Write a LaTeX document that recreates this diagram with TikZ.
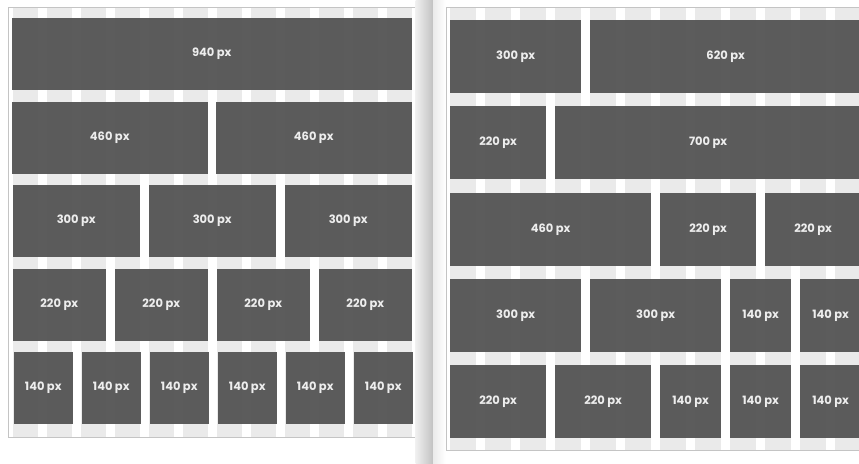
\documentclass[tikz,border=0pt]{standalone}
\usepackage{fontspec}
\setsansfont{Poppins}
\usetikzlibrary{positioning}
\usepackage{xcolor}
\definecolor{gdDark}{HTML}{4F4F4F}
\definecolor{gdStripe}{HTML}{EAEAEA}
\definecolor{gdFrame}{HTML}{C4C4C4}
\definecolor{gdLabel}{HTML}{EDEDED}
\tikzset{
    blk/.style={
        fill=gdDark,fill opacity=0.92,text opacity=1,anchor=north west,
        inner sep=0pt,outer sep=0pt,minimum width=#1,text=gdLabel,
        font=\sffamily\bfseries\fontsize{11.5}{13}\selectfont
    },
    lrow/.style={minimum height=72pt},
    rrow/.style={minimum height=73pt},
    page/.style={draw=gdFrame,line width=0.8pt,fill=white}
}

\begin{document}
\begin{tikzpicture}[x=1pt,y=-1pt]

\clip (0,0) rectangle (859,463);
\fill[white] (0,0) rectangle (859,463);

% the two pages
\draw[page] (8,7) rectangle (415,437);
\draw[page] (446,7) rectangle (890,450);

% column stripes
\foreach \k in {0,...,11}
    \fill[gdStripe] ({12.5+\k*34},7.5) rectangle ++(25.5,429);
\foreach \k in {0,...,12}
    \fill[gdStripe] ({450+\k*35},7.5) rectangle ++(26.25,442);

% fold of the book
\shade[left color=black!6,right color=black!24] (415.5,0) rectangle (433,463);
\shade[left color=black!8,right color=white] (433,0) rectangle (445.5,463);

% left page
\node[blk=399.5pt,lrow] (a1) at (12,18) {940 px};

\node[blk=195.5pt,lrow] (b1) at (12,101.5) {460 px};
\node[blk=195.5pt,lrow,right=8.5pt of b1] (b2) {460 px};

\node[blk=127.5pt,lrow] (c1) at (12.5,185) {300 px};
\node[blk=127.5pt,lrow,right=8.5pt of c1] (c2) {300 px};
\node[blk=127.5pt,lrow,right=8.5pt of c2] (c3) {300 px};

\node[blk=93.5pt,lrow] (d1) at (12.5,268.5) {220 px};
\node[blk=93.5pt,lrow,right=8.5pt of d1] (d2) {220 px};
\node[blk=93.5pt,lrow,right=8.5pt of d2] (d3) {220 px};
\node[blk=93.5pt,lrow,right=8.5pt of d3] (d4) {220 px};

\node[blk=59.5pt,lrow] (e1) at (13.5,352) {140 px};
\node[blk=59.5pt,lrow,right=8.5pt of e1] (e2) {140 px};
\node[blk=59.5pt,lrow,right=8.5pt of e2] (e3) {140 px};
\node[blk=59.5pt,lrow,right=8.5pt of e3] (e4) {140 px};
\node[blk=59.5pt,lrow,right=8.5pt of e4] (e5) {140 px};
\node[blk=59.5pt,lrow,right=8.5pt of e5] (e6) {140 px};

% right page
\node[blk=131.25pt,rrow] (f1) at (450,20) {300 px};
\node[blk=271.25pt,rrow,right=8.75pt of f1] (f2) {620 px};

\node[blk=96.25pt,rrow] (g1) at (450,106) {220 px};
\node[blk=306.25pt,rrow,right=8.75pt of g1] (g2) {700 px};

\node[blk=201.25pt,rrow] (h1) at (450,193) {460 px};
\node[blk=96.25pt,rrow,right=8.75pt of h1] (h2) {220 px};
\node[blk=96.25pt,rrow,right=8.75pt of h2] (h3) {220 px};

\node[blk=131.25pt,rrow] (i1) at (450,279) {300 px};
\node[blk=131.25pt,rrow,right=8.75pt of i1] (i2) {300 px};
\node[blk=61.25pt,rrow,right=8.75pt of i2] (i3) {140 px};
\node[blk=61.25pt,rrow,right=8.75pt of i3] (i4) {140 px};

\node[blk=96.25pt,rrow] (j1) at (450,365) {220 px};
\node[blk=96.25pt,rrow,right=8.75pt of j1] (j2) {220 px};
\node[blk=61.25pt,rrow,right=8.75pt of j2] (j3) {140 px};
\node[blk=61.25pt,rrow,right=8.75pt of j3] (j4) {140 px};
\node[blk=61.25pt,rrow,right=8.75pt of j4] (j5) {140 px};

\end{tikzpicture}
\end{document}
